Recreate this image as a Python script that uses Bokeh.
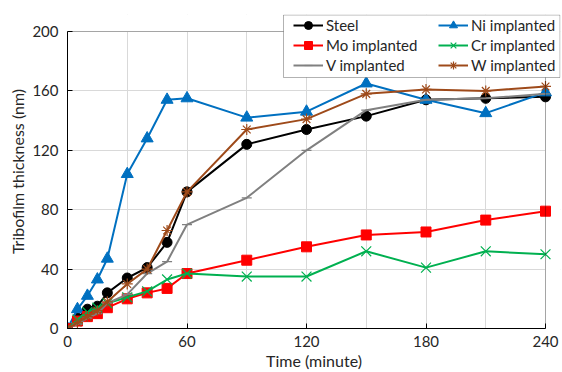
from bokeh.plotting import figure
from bokeh.models import Legend, LegendItem, FixedTicker, Range1d, BoxAnnotation
from bokeh.embed import file_html
from bokeh.resources import INLINE

# ---- data ----
time = [0, 5, 10, 15, 20, 30, 40, 50, 60, 90, 120, 150, 180, 210, 240]
steel = [0, 7, 13, 15, 24, 34, 41, 58, 92, 124, 134, 143, 154, 155, 156]
ni_impl = [0, 13, 22, 33, 47, 104, 128, 154, 155, 142, 146, 165, 154, 145, 159]
mo_impl = [0, 5, 8, 10, 14, 20, 24, 27, 37, 46, 55, 63, 65, 73, 79]
cr_impl = [0, 6, 11, 14, 17, 21, 25, 33, 37, 35, 35, 52, 41, 52, 50]
v_impl = [0, 3, 7, 10, 17, 23, 37, 45, 70, 88, 120, 147, 154, 155, 158]
w_impl = [0, 4, 8, 12, 18, 30, 40, 66, 92, 134, 141, 158, 161, 160, 163]

x_ticks = [0, 60, 120, 180, 240]
x_grid = [0, 30, 60, 90, 120, 150, 180, 210, 240]
y_ticks = [0, 40, 80, 120, 160, 200]
x_max, y_max = 240, 200

FONT = "Lato"
TXT = "#262626"

# layout (pixels): plot box 67..545 x 31..328; frame extended to hold the legend
W, H = 562, 372
BOX_L, BOX_R, BOX_T, BOX_B = 67, 545, 31, 328
FR_R, FR_T = 560, 14
px_x = (BOX_R - BOX_L) / x_max
px_y = (BOX_B - BOX_T) / y_max
x_end = (FR_R - BOX_L) / px_x
y_end = (BOX_B - FR_T) / px_y

p = figure(width=W, height=H, output_backend="svg", toolbar_location=None,
           x_range=Range1d(0, x_end), y_range=Range1d(0, y_end),
           min_border_left=BOX_L, min_border_right=W - FR_R,
           min_border_top=FR_T, min_border_bottom=H - BOX_B)
p.background_fill_color = "white"
p.border_fill_color = "white"
p.outline_line_color = None

for ax in (p.xaxis[0], p.yaxis[0]):
    ax.axis_line_color = "black"
    ax.axis_line_width = 1
    ax.major_tick_in = 5
    ax.major_tick_out = 0
    ax.major_tick_line_color = "black"
    ax.minor_tick_line_color = None
    ax.major_label_text_font = FONT
    ax.major_label_text_font_size = "15px"
    ax.major_label_text_color = TXT
    ax.axis_label_text_font = FONT
    ax.axis_label_text_font_size = "16px"
    ax.axis_label_text_font_style = "normal"
    ax.axis_label_text_color = TXT

p.xaxis.ticker = FixedTicker(ticks=x_ticks)
p.yaxis.ticker = FixedTicker(ticks=y_ticks)
p.xaxis.bounds = (0, x_max)
p.yaxis.bounds = (0, y_max)
p.xgrid.ticker = FixedTicker(ticks=x_grid)
p.ygrid.ticker = FixedTicker(ticks=y_ticks)
p.xaxis.axis_label = "Time (minute)"
p.yaxis.axis_label = "Tribofilm thickness (nm)"
p.xaxis.major_label_standoff = 7
p.xaxis.axis_label_standoff = 1
p.yaxis.major_label_standoff = 9
p.yaxis.axis_label_standoff = 2
for g in (p.xgrid[0], p.ygrid[0]):
    g.grid_line_color = "#d9d9d9"
    g.grid_line_width = 1

# white covers over the grid outside the plot box (drawn under the data)
p.add_layout(BoxAnnotation(bottom=y_max, fill_color="white", fill_alpha=1,
                           line_color=None, level="underlay"))
p.add_layout(BoxAnnotation(left=x_max, fill_color="white", fill_alpha=1,
                           line_color=None, level="underlay"))

series = [
    ("Steel", steel, "black", "circle", 10),
    ("Ni implanted", ni_impl, "#0070C0", "triangle", 12),
    ("Mo implanted", mo_impl, "#FF0000", "square", 10),
    ("Cr implanted", cr_impl, "#00B050", "x", 14),
    ("V implanted", v_impl, "#808080", "dash", 10),
    ("W implanted", w_impl, "#9E4A1A", "asterisk", 11),
]

items = {}
for name, vals, col, mk, sz in series:
    ln = p.line(time, vals, line_color=col, line_width=2)
    sc = p.scatter(time, vals, marker=mk, size=sz, fill_color=col, line_color=col,
                   line_width=1.2 if mk in ("x", "dash", "asterisk") else 1)
    items[name] = LegendItem(label=name, renderers=[ln, sc])

# plot box outline (top and right edges)
p.add_layout(BoxAnnotation(left=0, right=x_max, bottom=0, top=y_max,
                           fill_alpha=0, line_color="black", line_width=1))

# legend box
LG_L, LG_R, LG_T, LG_B = 283, 559.5, 14.5, 77
p.add_layout(BoxAnnotation(left=(LG_L - BOX_L) / px_x, right=(LG_R - BOX_L) / px_x,
                           top=(BOX_B - LG_T) / px_y, bottom=(BOX_B - LG_B) / px_y,
                           fill_color="white", fill_alpha=1,
                           line_color="black", line_width=1))

cols = [["Steel", "Mo implanted", "V implanted"],
        ["Ni implanted", "Cr implanted", "W implanted"]]
col_x = [293, 438]
for names, cx in zip(cols, col_x):
    lg = Legend(items=[items[n] for n in names],
                location=(cx - BOX_L, BOX_B - 75),
                orientation="vertical",
                border_line_color=None, background_fill_alpha=0,
                label_text_font=FONT, label_text_font_size="15px", label_text_color=TXT,
                glyph_width=30, glyph_height=20, label_height=20, label_standoff=3,
                spacing=0, padding=0, margin=0)
    p.add_layout(lg, "center")

open("out.html", "w").write(file_html(p, INLINE))
